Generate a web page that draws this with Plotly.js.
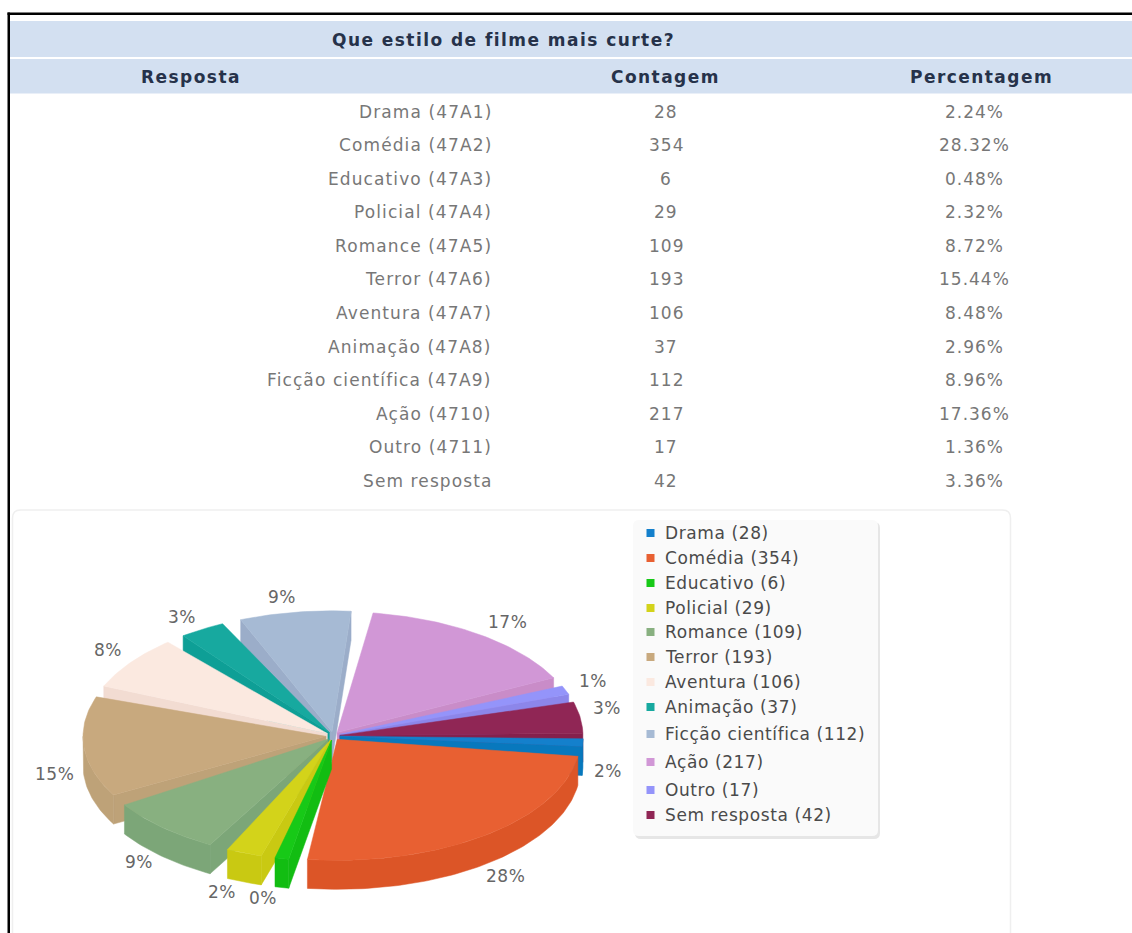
<!DOCTYPE html>
<html><head><meta charset="utf-8">
<script src="https://cdn.plot.ly/plotly-3.0.1.min.js"></script>
<style>html,body{margin:0;padding:0;background:#fff;overflow:hidden}</style>
</head><body><div id="chart" style="width:1132px;height:933px"></div>
<script>
// ---- data ----
const tableTitle = "Que estilo de filme mais curte?";
const columnHeaders = ["Resposta", "Contagem", "Percentagem"];
const categories = ["Drama","Comédia","Educativo","Policial","Romance","Terror","Aventura","Animação","Ficção científica","Ação","Outro","Sem resposta"];
const codes = ["47A1","47A2","47A3","47A4","47A5","47A6","47A7","47A8","47A9","4710","4711",""];
const counts = [28,354,6,29,109,193,106,37,112,217,17,42];
const percents = ["2.24%","28.32%","0.48%","2.32%","8.72%","15.44%","8.48%","2.96%","8.96%","17.36%","1.36%","3.36%"];
// ---- styling ----
const topColors  = ["#1480cc","#e86032","#17c917","#d3d31a","#88b080","#c8a97e","#fbe9e0","#17a99f","#a6bad4","#d197d6","#9494fa","#902655"];
const sideColors = ["#0878bd","#dc5527","#12bd12","#c9c912","#7ca678","#bea278","#f2dcd2","#0e9f96","#9badc9","#c98cc8","#8c86ea","#85204c"];
const FONT = '"DejaVu Sans", Verdana, sans-serif';
const rowY = [112,145,179,212,246,279,313,347,380,414,447,481];
const legendY = [533,558,583,608,632,657,682,707,734,762,790,815];
const labelX = [608,505,263,222,139,54,108,182,282,507,593,607];
const labelY = [771,876,898,892,862,774,650,617,597,622,681,708];
const pie = {cx:333, cy:736, rx:243, ry:121, depth:29, explode:7, pad:2};
// the source's pseudo-3D drawing bends the angular scale a little
const angleKnots = [[0,0],[8,6],[110,99],[111.7,104.5],[120,117],[151.5,149],[207,201],[237.6,231],[248.3,246],[280.5,276.5],[343,335],[347.9,342],[360,361]];
const warp = t => {
  for (let i=1;i<angleKnots.length;i++){
    const [a,b]=angleKnots[i-1],[c,d]=angleKnots[i];
    if (t<=c) return b+(t-a)*(d-b)/(c-a);
  }
  return t;
};
const rad = d => d*Math.PI/180;
const total = counts.reduce((a,b)=>a+b,0);
let cum=0;
const slices = counts.map((v,i)=>{
  let a=warp(cum/total*360); cum+=v; let b=warp(cum/total*360);
  const p=Math.min(pie.pad,(b-a)*0.2); a+=p; b-=p;
  const m=(a+b)/2;
  return {i,a,b,m,ox:pie.cx+pie.explode*Math.cos(rad(m)),oy:pie.cy+0.6*pie.explode*Math.sin(rad(m))};
});
const poly=(xs,ys,color)=>({type:"scatter",mode:"lines",x:[...xs,xs[0]],y:[...ys,ys[0]],fill:"toself",fillcolor:color,
  line:{width:0.5,color:color},hoverinfo:"skip",showlegend:false});
const rim=(s,a,b)=>{const xs=[],ys=[];const n=Math.max(2,Math.ceil(Math.abs(b-a)));
  for(let k=0;k<=n;k++){const t=rad(a+(b-a)*k/n);xs.push(s.ox+pie.rx*Math.cos(t));ys.push(s.oy+pie.ry*Math.sin(t));}
  return [xs,ys];};
const traces=[];
[...slices].sort((p,q)=>Math.sin(rad(p.m))-Math.sin(rad(q.m))).forEach(s=>{
  const side=sideColors[s.i], d=pie.depth;
  const face=t=>{const x=s.ox+pie.rx*Math.cos(rad(t)),y=s.oy+pie.ry*Math.sin(rad(t));
    traces.push(poly([s.ox,x,x,s.ox],[s.oy,y,y+d,s.oy+d],side));};
  if(Math.cos(rad(s.a))<0) face(s.a);
  if(Math.cos(rad(s.b))>0) face(s.b);
  const lo=Math.max(s.a,0),hi=Math.min(s.b,180);
  if(hi>lo){const [xs,ys]=rim(s,lo,hi);
    traces.push(poly([...xs,...[...xs].reverse()],[...ys,...[...ys].reverse().map(y=>y+d)],side));}
  const [xs,ys]=rim(s,s.a,s.b);
  traces.push(poly([s.ox,...xs],[s.oy,...ys],topColors[s.i]));
});
// legend swatches
traces.push({type:"scatter",mode:"markers",x:categories.map(()=>650.5),y:legendY,
  marker:{symbol:"square",size:8,color:topColors,line:{width:0}},hoverinfo:"skip",showlegend:false});

const ann=(x,y,text,size,color,anchor,ls,bold)=>({xref:"x",yref:"y",x,y,
  text:`<span style="letter-spacing:${ls}px">${bold?"<b>"+text+"</b>":text}</span>`,showarrow:false,
  xanchor:anchor,yanchor:"middle",font:{family:FONT,size,color},borderpad:0});
const annotations=[];
annotations.push(ann(503,40,tableTitle,17,"#26324a","center",1.45,true));
[191,665,981].forEach((x,i)=>annotations.push(ann(x,77,columnHeaders[i],17,"#26324a","center",1.45,true)));
categories.forEach((c,i)=>{
  annotations.push(ann(493,rowY[i],codes[i]?c+" ("+codes[i]+")":c,17,"#777777","right",1.1));
  annotations.push(ann(666,rowY[i],String(counts[i]),17,"#777777","center",1));
  annotations.push(ann(974,rowY[i],percents[i],17,"#777777","center",1));
  annotations.push(ann(664,legendY[i],c+" ("+counts[i]+")",17,"#4a4a4a","left",0.6));
  annotations.push(ann(labelX[i],labelY[i],Math.round(counts[i]/total*100)+"%",17,"#666666","center",0.5));
});
const rr=(x0,y0,x1,y1,r)=>`M${x0+r},${y0} L${x1-r},${y0} Q${x1},${y0} ${x1},${y0+r} L${x1},${y1-r} Q${x1},${y1} ${x1-r},${y1} L${x0+r},${y1} Q${x0},${y1} ${x0},${y1-r} L${x0},${y0+r} Q${x0},${y0} ${x0+r},${y0} Z`;
const shapes=[
  {type:"rect",xref:"x",yref:"y",x0:10,x1:1132,y0:21,y1:57,fillcolor:"#d3e0f1",line:{width:0},layer:"below"},
  {type:"rect",xref:"x",yref:"y",x0:10,x1:1132,y0:59,y1:93.5,fillcolor:"#d3e0f1",line:{width:0},layer:"below"},
  {type:"rect",xref:"x",yref:"y",x0:7.5,x1:1132,y0:12.5,y1:15,fillcolor:"#000",line:{width:0},layer:"below"},
  {type:"rect",xref:"x",yref:"y",x0:7.5,x1:10,y0:12.5,y1:933,fillcolor:"#000",line:{width:0},layer:"below"},
  {type:"path",xref:"x",yref:"y",path:rr(12.5,510,1010.5,960,8),fillcolor:"#fff",line:{width:1.5,color:"#efefef"},layer:"below"},
  {type:"path",xref:"x",yref:"y",path:rr(635,522,880,839,6),fillcolor:"#e6e6e6",line:{width:0},layer:"below"},
  {type:"path",xref:"x",yref:"y",path:rr(633,520,878,836,6),fillcolor:"#fafafa",line:{width:0},layer:"below"}
];
Plotly.newPlot("chart",traces,{
  width:1132,height:933,margin:{l:0,r:0,t:0,b:0},paper_bgcolor:"#fff",plot_bgcolor:"#fff",showlegend:false,
  xaxis:{range:[0,1132],visible:false,fixedrange:true},
  yaxis:{range:[933,0],visible:false,fixedrange:true},
  annotations,shapes
},{displayModeBar:false,staticPlot:true});
</script></body></html>
